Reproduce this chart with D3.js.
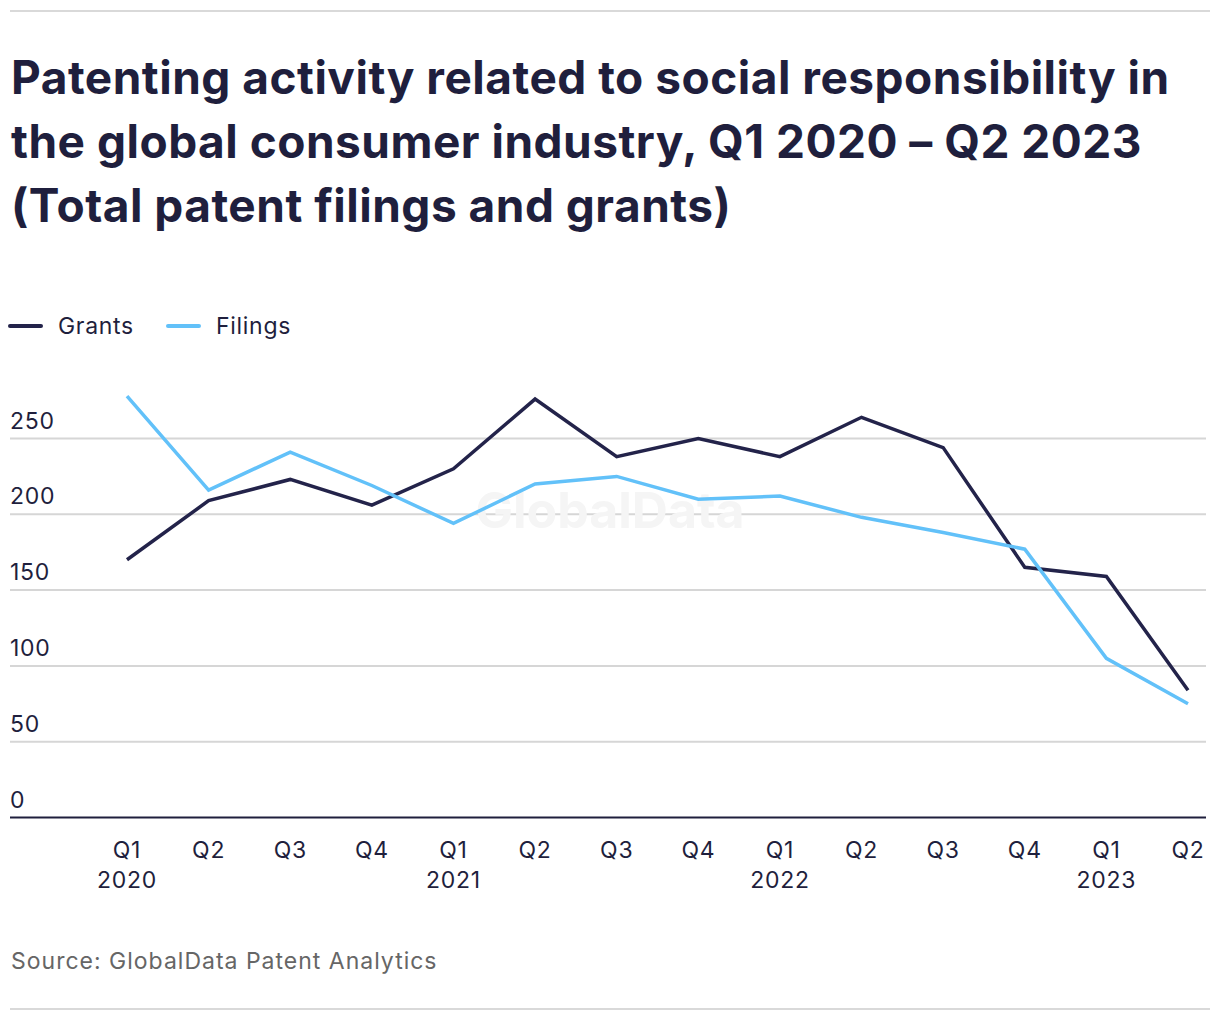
<!DOCTYPE html>
<html>
<head>
<meta charset="utf-8">
<script src="https://d3js.org/d3.v7.min.js"></script>
<style>
  body { margin: 0; background: #fff; }
  text { font-family: Inter, "Noto Sans", sans-serif; }
</style>
</head>
<body>
<div id="chart"></div>
<script>
var quarters = ['Q1','Q2','Q3','Q4','Q1','Q2','Q3','Q4','Q1','Q2','Q3','Q4','Q1','Q2'];
var years = ['2020','','','','2021','','','','2022','','','','2023',''];
var grants = [170, 209, 223, 206, 230, 276, 238, 250, 238, 264, 244, 165, 159, 84];
var filings = [278, 216, 241, 219, 194, 220, 225, 210, 212, 198, 188, 177, 105, 75];
var yTicks = [0, 50, 100, 150, 200, 250];
var titleLines = [
  'Patenting activity related to social responsibility in',
  'the global consumer industry, Q1 2020 \u2013 Q2 2023',
  '(Total patent filings and grants)'
];

var width = 1220, height = 1020;
var ink = '#1f1f3d';
var colors = { grants: '#23234a', filings: '#62c1f9' };
var labelSize = 23, labelSpacing = 0.7;

var svg = d3.select('#chart').append('svg')
  .attr('width', width)
  .attr('height', height);

// top and bottom rules
svg.append('line').attr('x1', 10).attr('x2', 1210).attr('y1', 11).attr('y2', 11)
  .attr('stroke', '#d9d9d9').attr('stroke-width', 2);
svg.append('line').attr('x1', 10).attr('x2', 1210).attr('y1', 1009).attr('y2', 1009)
  .attr('stroke', '#d9d9d9').attr('stroke-width', 2);

// title
svg.append('g').selectAll('text')
  .data(titleLines)
  .enter().append('text')
    .attr('x', 11)
    .attr('y', function(d, i){ return 94 + i * 64; })
    .attr('fill', ink)
    .attr('font-size', 46)
    .attr('font-weight', 700)
    .attr('letter-spacing', 0.5)
    .text(function(d){ return d; });

// legend
var legend = [
  { name: 'Grants', color: colors.grants, x: 10 },
  { name: 'Filings', color: colors.filings, x: 168 }
];
var lg = svg.append('g').selectAll('g').data(legend).enter().append('g')
  .attr('transform', function(d){ return 'translate(' + d.x + ',326)'; });
lg.append('line').attr('x1', 0).attr('x2', 31)
  .attr('stroke', function(d){ return d.color; })
  .attr('stroke-width', 4).attr('stroke-linecap', 'round');
lg.append('text').attr('x', 48).attr('dy', '0.35em')
  .attr('font-size', labelSize).attr('letter-spacing', labelSpacing).attr('fill', ink)
  .text(function(d){ return d.name; });

// scales
var x = d3.scalePoint()
  .domain(d3.range(quarters.length))
  .range([127, 1188]);

var y = d3.scaleLinear()
  .domain([0, 250])
  .range([817.5, 438.5]);

// gridlines + y labels
var grid = svg.append('g');
grid.selectAll('line')
  .data(yTicks.filter(function(d){ return d > 0; }))
  .enter().append('line')
    .attr('x1', 10).attr('x2', 1206)
    .attr('y1', function(d){ return y(d); })
    .attr('y2', function(d){ return y(d); })
    .attr('stroke', '#d6d6d6').attr('stroke-width', 2);
grid.selectAll('text')
  .data(yTicks)
  .enter().append('text')
    .attr('x', 10)
    .attr('y', function(d){ return y(d) - 10; })
    .attr('font-size', labelSize).attr('letter-spacing', labelSpacing).attr('fill', ink)
    .text(function(d){ return d; });

// watermark
svg.append('text')
  .attr('x', 610).attr('y', 528)
  .attr('text-anchor', 'middle')
  .attr('font-size', 50).attr('font-weight', 700)
  .attr('fill', '#f5f5f5')
  .text('GlobalData');

// baseline
svg.append('line').attr('x1', 10).attr('x2', 1206)
  .attr('y1', y(0)).attr('y2', y(0))
  .attr('stroke', ink).attr('stroke-width', 2);

// x labels
var xl = svg.append('g').selectAll('text')
  .data(quarters)
  .enter().append('text')
    .attr('text-anchor', 'middle')
    .attr('font-size', labelSize).attr('letter-spacing', labelSpacing).attr('fill', ink)
    .attr('transform', function(d, i){ return 'translate(' + x(i) + ',858)'; });
xl.append('tspan').attr('x', 0).text(function(d){ return d; });
xl.append('tspan').attr('x', 0).attr('dy', 30).text(function(d, i){ return years[i]; });

// lines
var line = d3.line()
  .x(function(d, i){ return x(i); })
  .y(function(d){ return y(d); });

svg.append('path').datum(grants)
  .attr('d', line).attr('fill', 'none')
  .attr('stroke', colors.grants).attr('stroke-width', 3.5)
  .attr('stroke-linejoin', 'miter');

svg.append('path').datum(filings)
  .attr('d', line).attr('fill', 'none')
  .attr('stroke', colors.filings).attr('stroke-width', 3.5)
  .attr('stroke-linejoin', 'miter');

// source
svg.append('text')
  .attr('x', 11).attr('y', 969)
  .attr('font-size', labelSize).attr('letter-spacing', 1).attr('fill', '#666')
  .text('Source: GlobalData Patent Analytics');
</script>
</body>
</html>
